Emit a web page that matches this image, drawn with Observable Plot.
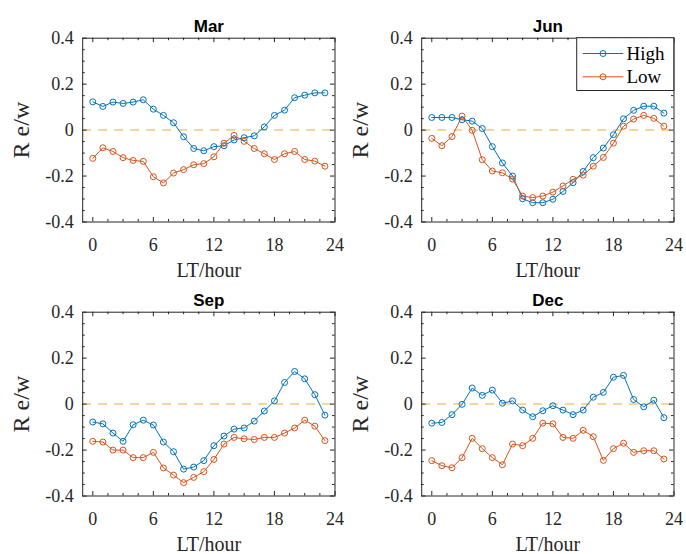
<!DOCTYPE html>
<html><head><meta charset="utf-8">
<script src="https://cdn.jsdelivr.net/npm/d3@7"></script>
<script src="https://cdn.jsdelivr.net/npm/@observablehq/plot@0.6"></script>
<style>
html,body{margin:0;padding:0;background:#fff;}
#fig{position:relative;width:686px;height:554px;overflow:hidden;background:#fff;}
#fig > svg{position:absolute;}
</style></head><body><div id="fig"></div>
<script>
const hours = [0,1,2,3,4,5,6,7,8,9,10,11,12,13,14,15,16,17,18,19,20,21,22,23];
const seriesNames = ["High","Low"];
const seriesColors = ["#0072BD","#D95319"];

const marHigh = [0.123,0.103,0.122,0.116,0.122,0.132,0.091,0.064,0.032,-0.029,-0.080,-0.090,-0.072,-0.068,-0.043,-0.033,-0.025,0.014,0.064,0.087,0.141,0.152,0.162,0.162];
const marLow  = [-0.123,-0.077,-0.093,-0.120,-0.132,-0.136,-0.203,-0.230,-0.187,-0.172,-0.151,-0.146,-0.116,-0.057,-0.023,-0.049,-0.080,-0.103,-0.128,-0.103,-0.093,-0.128,-0.135,-0.157];
const junHigh = [0.055,0.055,0.055,0.045,0.039,0.007,-0.072,-0.143,-0.200,-0.299,-0.316,-0.316,-0.301,-0.267,-0.229,-0.180,-0.120,-0.078,-0.020,0.049,0.086,0.104,0.104,0.074];
const junLow  = [-0.036,-0.068,-0.028,0.061,-0.001,-0.129,-0.178,-0.186,-0.213,-0.287,-0.294,-0.287,-0.270,-0.243,-0.214,-0.196,-0.157,-0.119,-0.057,0.017,0.048,0.064,0.051,0.017];
const sepHigh = [-0.078,-0.086,-0.126,-0.162,-0.090,-0.070,-0.091,-0.165,-0.207,-0.283,-0.274,-0.246,-0.181,-0.139,-0.109,-0.104,-0.074,-0.030,0.014,0.094,0.142,0.110,0.041,-0.048];
const sepLow  = [-0.162,-0.165,-0.200,-0.200,-0.233,-0.233,-0.210,-0.278,-0.309,-0.342,-0.319,-0.294,-0.241,-0.174,-0.145,-0.151,-0.154,-0.145,-0.145,-0.126,-0.104,-0.070,-0.096,-0.159];
const decHigh = [-0.083,-0.080,-0.046,-0.001,0.070,0.038,0.061,0.004,0.014,-0.026,-0.055,-0.029,-0.007,-0.026,-0.046,-0.026,0.030,0.051,0.117,0.125,0.020,-0.012,0.017,-0.059];
const decLow  = [-0.246,-0.268,-0.277,-0.233,-0.149,-0.194,-0.233,-0.264,-0.174,-0.181,-0.149,-0.083,-0.086,-0.145,-0.149,-0.114,-0.142,-0.245,-0.194,-0.170,-0.210,-0.203,-0.203,-0.239];

const titles = ["Mar","Jun","Sep","Dec"];
const highSeries = [marHigh, junHigh, sepHigh, decHigh];
const lowSeries = [marLow, junLow, sepLow, decLow];

const xTicks = [0,6,12,18,24];
const xTickLabels = ["0","6","12","18","24"];
const xMinor = [1.5,3,4.5,7.5,9,10.5,13.5,15,16.5,19.5,21,22.5];
const yTicks = [-0.4,-0.2,0,0.2,0.4];
const yTickLabels = ["-0.4","-0.2","0","0.2","0.4"];
const yMinor = [-0.35,-0.3,-0.25,-0.15,-0.1,-0.05,0.05,0.1,0.15,0.25,0.3,0.35];
const xLabel = "LT/hour";
const yLabel = "R e/w";

const W = 343, H = 280, ML = 82.2, MR = 8.5, MT = 37.7, MB = 58.5;
const FW = W - ML - MR, FH = H - MT - MB;
const SERIF = "'Liberation Serif','Times New Roman',serif";
const SANS = "'Liberation Sans',Arial,sans-serif";
const INK = "#262626";
const colLeft = [0, 339.3], rowTop = [0, 274];

function stretch(svg, label, s) {
  svg.querySelectorAll(`g[aria-label="${label}"] text`).forEach(t => {
    const tr = t.getAttribute("transform");
    if (tr) t.setAttribute("transform", tr + ` scale(${s},1)`);
    else {
      const x = t.getAttribute("x") || 0, y = t.getAttribute("y") || 0;
      t.setAttribute("transform", `translate(${x},${y}) scale(${s},1)`);
      t.setAttribute("x", 0); t.setAttribute("y", 0);
    }
  });
}

const fig = document.getElementById("fig");
titles.forEach((title, k) => {
  const data = [];
  hours.forEach((h, i) => {
    data.push({h, v: highSeries[k][i], s: seriesNames[0]});
  });
  hours.forEach((h, i) => {
    data.push({h, v: lowSeries[k][i], s: seriesNames[1]});
  });
  const svg = Plot.plot({
    width: W, height: H,
    marginLeft: ML, marginRight: MR, marginTop: MT, marginBottom: MB,
    x: {domain: [-1, 24], axis: null},
    y: {domain: [-0.4, 0.4], axis: null},
    color: {domain: seriesNames, range: seriesColors},
    style: {background: "transparent", overflow: "visible"},
    marks: [
      Plot.ruleY([0], {stroke: "#F2C97A", strokeWidth: 1.5, strokeDasharray: "9,7"}),
      Plot.line(data, {x: "h", y: "v", z: "s", stroke: "s", strokeWidth: 1}),
      Plot.dot(data, {x: "h", y: "v", stroke: "s", r: 3, strokeWidth: 1, fill: "none"}),
      Plot.frame({stroke: INK, strokeWidth: 1}),
      // major ticks (inward, all four sides)
      Plot.ruleX(xTicks, {x: d => d, insetTop: FH - 4.5, stroke: INK}),
      Plot.ruleX(xTicks, {x: d => d, insetBottom: FH - 4.5, stroke: INK}),
      Plot.ruleY(yTicks, {y: d => d, insetRight: FW - 4.5, stroke: INK}),
      Plot.ruleY(yTicks, {y: d => d, insetLeft: FW - 4.5, stroke: INK}),
      // minor ticks
      Plot.ruleX(xMinor, {x: d => d, insetTop: FH - 2.5, stroke: INK}),
      Plot.ruleX(xMinor, {x: d => d, insetBottom: FH - 2.5, stroke: INK}),
      Plot.ruleY(yMinor, {y: d => d, insetRight: FW - 2.5, stroke: INK}),
      Plot.ruleY(yMinor, {y: d => d, insetLeft: FW - 2.5, stroke: INK}),
      // tick labels
      Plot.text(xTicks, {x: d => d, text: (d, i) => xTickLabels[i], frameAnchor: "bottom", lineAnchor: "bottom", dy: 29, fontSize: 18, fontFamily: SERIF, fill: INK, ariaLabel: "xtl"}),
      Plot.text(yTicks, {y: d => d, text: (d, i) => yTickLabels[i], frameAnchor: "left", textAnchor: "end", lineAnchor: "middle", dx: -9, fontSize: 18, fontFamily: SERIF, fill: INK, ariaLabel: "ytl"}),
      // axis labels
      Plot.text([xLabel], {text: d => d, frameAnchor: "bottom", lineAnchor: "bottom", dy: 54.5, fontSize: 20, fontFamily: SERIF, fill: INK, ariaLabel: "xlab"}),
      Plot.text([yLabel], {text: d => d, frameAnchor: "left", rotate: -90, textAnchor: "middle", lineAnchor: "middle", dx: -(ML - 21), fontSize: 24, fontFamily: SERIF, fill: INK, ariaLabel: "ylab"}),
      // title
      Plot.text([title], {text: d => d, frameAnchor: "top", lineAnchor: "bottom", dy: -6, fontSize: 17, fontWeight: "bold", fontFamily: SANS, fill: "#000", ariaLabel: "ttl"})
    ]
  });
  stretch(svg, "xtl", 1.25);
  stretch(svg, "ytl", 1.25);
  stretch(svg, "xlab", 1.05);
  stretch(svg, "ttl", 1.2);
  svg.style.left = colLeft[k % 2] + "px";
  svg.style.top = rowTop[Math.floor(k / 2)] + "px";
  fig.appendChild(svg);
});

// legend in the Jun panel (top-right)
const lg = d3.select(fig).append("svg")
  .attr("width", 686).attr("height", 554)
  .style("left", "0px").style("top", "0px").style("position", "absolute");
const lx0 = 576.7, ly0 = 37.7, lx1 = 673.8, ly1 = 90.5;
lg.append("rect").attr("x", lx0).attr("y", ly0).attr("width", lx1 - lx0).attr("height", ly1 - ly0)
  .attr("fill", "#fff").attr("stroke", INK).attr("stroke-width", 1);
seriesNames.forEach((name, i) => {
  const cy = 53.5 + i * 23.3;
  lg.append("line").attr("x1", 582.7).attr("x2", 623.3).attr("y1", cy).attr("y2", cy)
    .attr("stroke", seriesColors[i]).attr("stroke-width", 1);
  lg.append("circle").attr("cx", 603).attr("cy", cy).attr("r", 3)
    .attr("fill", "none").attr("stroke", seriesColors[i]).attr("stroke-width", 1);
  lg.append("text").attr("x", 626.5).attr("y", cy).attr("dy", "0.35em")
    .attr("font-family", SERIF).attr("font-size", 19).attr("fill", "#000").text(name);
});
</script></body></html>
